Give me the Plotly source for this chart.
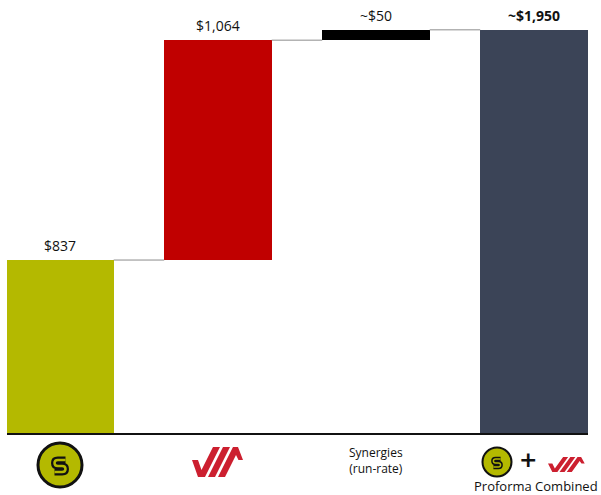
import plotly.graph_objects as go

# ---- data ----
categories = ["Company S", "Company V", "Synergies (run-rate)", "Proforma Combined"]
values = [837, 1064, 50, 1950]
measures = ["absolute", "relative", "relative", "total"]
value_labels = ["$837", "$1,064", "~$50", "~$1,950"]
bar_colors = ["#b4b900", "#c00000", "#000000", "#3b4457"]

# ---- waterfall geometry from data ----
bases, tops = [], []
running = 0
for v, m in zip(values, measures):
    if m == "absolute":
        base, running = 0, v
    elif m == "relative":
        base, running = running, running + v
    else:
        base = 0
    bases.append(base)
    tops.append(base + v)

xs = list(range(len(categories)))
BAR_W = 0.68

FW, FH = 601, 495
ML, MR, MT, MB = 7, 13, 10, 62
PW, PH = FW - ML - MR, FH - MT - MB

fig = go.Figure()
fig.add_trace(go.Bar(
    x=xs, y=values, base=bases, width=BAR_W,
    marker=dict(color=bar_colors, line=dict(width=0)),
    hoverinfo="skip", showlegend=False,
))

# connectors
for i in range(len(xs) - 1):
    lvl = tops[i]
    fig.add_trace(go.Scatter(
        x=[xs[i] + BAR_W / 2, xs[i + 1] - BAR_W / 2], y=[lvl, lvl],
        mode="lines", line=dict(color="#8c8c8c", width=1),
        hoverinfo="skip", showlegend=False,
    ))

# value labels
for i, (t, lab) in enumerate(zip(tops, value_labels)):
    bold = i == len(xs) - 1
    fig.add_annotation(
        x=xs[i], y=t, text=f"<b>{lab}</b>" if bold else lab,
        showarrow=False, yanchor="bottom", yshift=3,
        font=dict(family="Open Sans", size=14, color="#111111"),
    )

# ---- helpers for logos (pixel -> paper coords) ----
def P(px, py):
    return ((px - ML) / PW, (MT + PH - py) / PH)


def path_str(cmds):
    out = []
    for c in cmds:
        op, pts = c[0], c[1:]
        coords = " ".join(f"{P(x, y)[0]:.5f},{P(x, y)[1]:.5f}" for x, y in pts)
        out.append(f"{op}{coords}")
    return " ".join(out)


shapes = []


def s_logo(cx, cy, r, ring, sx, sy, s_out, s_in):
    x0, y0 = P(cx - r, cy + r)
    x1, y1 = P(cx + r, cy - r)
    shapes.append(dict(type="circle", xref="paper", yref="paper",
                       x0=x0, y0=y0, x1=x1, y1=y1,
                       fillcolor="#b4b900", line=dict(color="#111111", width=ring)))
    def q(u, v):
        return (cx + u * sx, cy + 1 + v * sy)
    cmds = [
        ("M", q(1, -1)), ("L", q(-0.4, -1)),
        ("Q", q(-1, -1), q(-1, -0.5)), ("Q", q(-1, 0), q(-0.4, 0)),
        ("L", q(0.4, 0)), ("Q", q(1, 0), q(1, 0.5)), ("Q", q(1, 1), q(0.4, 1)),
        ("L", q(-1, 1)),
    ]
    p = path_str(cmds)
    shapes.append(dict(type="path", xref="paper", yref="paper", path=p,
                       line=dict(color="#111111", width=s_out)))
    shapes.append(dict(type="path", xref="paper", yref="paper", path=p,
                       line=dict(color="#b4b900", width=s_in)))


def v_logo(x0, yb, sx, sy, color="#cc1f2f"):
    polys = [
        [(0, 17), (6, 17), (9.5, 7), (21, 30), (28, 30), (13, 0), (6, 0)],
        [(16, 0), (23, 0), (38, 30), (31, 30)],
        [(26, 0), (33, 0), (44, 22), (46.5, 17), (51, 17), (46, 30), (41, 30)],
    ]
    for poly in polys:
        pts = [(x0 + u * sx, yb - v * sy) for u, v in poly]
        cmds = [("M", pts[0])] + [("L", p) for p in pts[1:]]
        shapes.append(dict(type="path", xref="paper", yref="paper",
                           path=path_str(cmds) + " Z",
                           fillcolor=color, line=dict(width=0)))


s_logo(60, 465, 22, 3, 5.5, 6.0, 7, 2.5)
v_logo(192, 477, 1.0, 1.0)
s_logo(497, 462, 14.5, 2, 3.6, 3.9, 4.5, 1.5)
v_logo(548, 472, 0.72, 0.5)


def text_at(px, py, text, size, family="Open Sans"):
    x, y = P(px, py)
    fig.add_annotation(xref="paper", yref="paper", x=x, y=y, text=text,
                       showarrow=False, xanchor="center", yanchor="middle",
                       font=dict(family=family, size=size, color="#111111"))


text_at(528, 459, "<b>+</b>", 22, family="DejaVu Sans")
text_at(536, 486, categories[3], 13)
text_at(376, 460, "Synergies<br>(run-rate)", 12)

fig.update_layout(
    width=FW, height=FH,
    margin=dict(l=ML, r=MR, t=MT, b=MB, pad=0),
    plot_bgcolor="white", paper_bgcolor="white",
    shapes=shapes,
    bargap=0,
    xaxis=dict(range=[-0.335, 3.342], showgrid=False, zeroline=False,
               showticklabels=False, ticks="", showline=True,
               linecolor="#111111", linewidth=2, fixedrange=True),
    yaxis=dict(range=[0, 2047], visible=False, fixedrange=True),
)

fig.write_html(
    "out.html",
    config={"displayModeBar": False},
    post_script="document.body.style.margin='0';document.body.style.overflow='hidden';",
)
